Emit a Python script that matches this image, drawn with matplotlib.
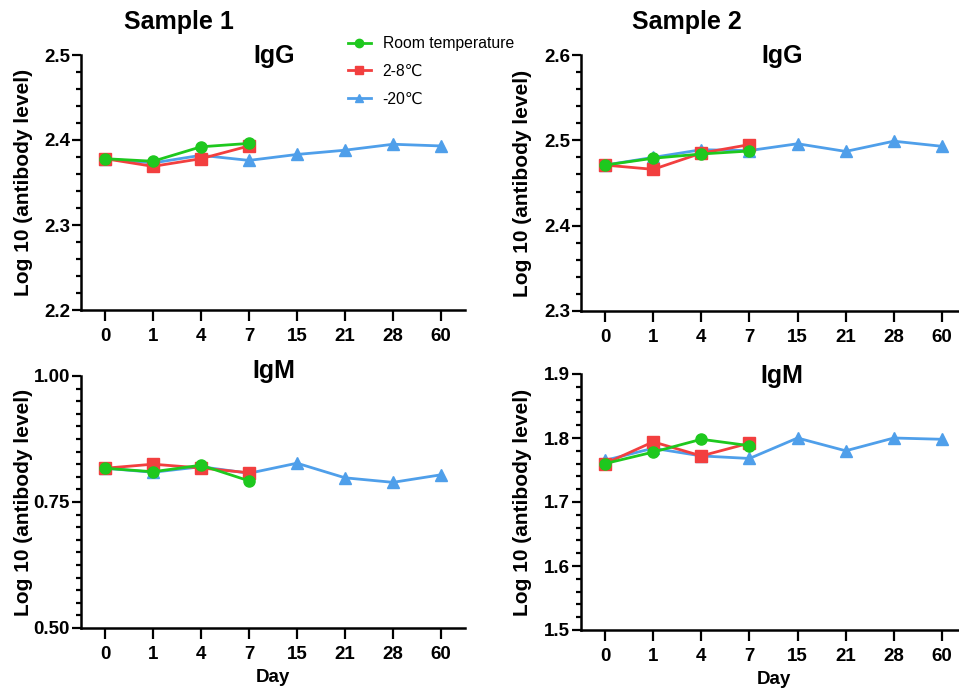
import matplotlib
matplotlib.use("Agg")
import matplotlib.pyplot as plt
from matplotlib.ticker import MultipleLocator, FormatStrFormatter

plt.rcParams['font.family'] = ['Liberation Sans', 'DejaVu Sans']

days = ["0", "1", "4", "7", "15", "21", "28", "60"]
series_names = ["Room temperature", "2-8℃", "-20℃"]

# Sample 1 IgG
s1_igg_rt = [2.378, 2.375, 2.392, 2.396]
s1_igg_cold = [2.378, 2.369, 2.378, 2.393]
s1_igg_frozen = [2.378, 2.373, 2.382, 2.376, 2.383, 2.388, 2.395, 2.393]
# Sample 2 IgG
s2_igg_rt = [2.471, 2.479, 2.484, 2.4875]
s2_igg_cold = [2.471, 2.466, 2.485, 2.495]
s2_igg_frozen = [2.471, 2.480, 2.489, 2.488, 2.496, 2.487, 2.499, 2.493]
# Sample 1 IgM
s1_igm_rt = [0.817, 0.810, 0.823, 0.792]
s1_igm_cold = [0.817, 0.825, 0.8175, 0.808]
s1_igm_frozen = [0.817, 0.809, 0.820, 0.807, 0.827, 0.798, 0.789, 0.804]
# Sample 2 IgM
s2_igm_rt = [1.760, 1.778, 1.798, 1.788]
s2_igm_cold = [1.760, 1.794, 1.772, 1.792]
s2_igm_frozen = [1.765, 1.784, 1.772, 1.768, 1.800, 1.780, 1.800, 1.798]

GREEN = '#1ec81e'
RED = '#f23f3f'
BLUE = '#4f9fea'

W, H = 959, 689
fig = plt.figure(figsize=(W / 100, H / 100), dpi=100)

def rect(l, r, t, b):
    return [l / W, 1 - b / H, (r - l) / W, (b - t) / H]

panels = [
    ((81, 465, 55, 310), 33, (2.2, 2.5), 0.1, 0.02, '%.1f',
     s1_igg_rt, s1_igg_cold, s1_igg_frozen, False),
    ((581, 966, 55, 311), 532, (2.3, 2.6), 0.1, 0.02, '%.1f',
     s2_igg_rt, s2_igg_cold, s2_igg_frozen, False),
    ((81, 465, 376, 628), 33, (0.5, 1.0), 0.25, 0.025, '%.2f',
     s1_igm_rt, s1_igm_cold, s1_igm_frozen, True),
    ((581, 966, 374, 630), 532, (1.5, 1.9), 0.1, 0.02, '%.1f',
     s2_igm_rt, s2_igm_cold, s2_igm_frozen, True),
]

axes = []
for box, ylab_x, ylim, major, minor, fmt, rt, cold, frz, xl in panels:
    ax = fig.add_axes(rect(*box))
    x_all = list(range(len(days)))
    ax.plot(x_all[:len(frz)], frz, color=BLUE, marker='^', markersize=8,
            linewidth=2, label=series_names[2], zorder=3)
    ax.plot(x_all[:len(cold)], cold, color=RED, marker='s', markersize=8,
            linewidth=2, label=series_names[1], zorder=4)
    ax.plot(x_all[:len(rt)], rt, color=GREEN, marker='o', markersize=8,
            linewidth=2, label=series_names[0], zorder=5)
    ax.set_xlim(-0.5, 7.5)
    ax.set_ylim(*ylim)
    ax.set_xticks(x_all)
    ax.set_xticklabels(days)
    ax.yaxis.set_major_locator(MultipleLocator(major))
    ax.yaxis.set_minor_locator(MultipleLocator(minor))
    ax.yaxis.set_major_formatter(FormatStrFormatter(fmt))
    for s in ['top', 'right']:
        ax.spines[s].set_visible(False)
    for s in ['left', 'bottom']:
        ax.spines[s].set_linewidth(1.8)
    ax.tick_params(axis='y', which='major', length=6.5, width=1.6,
                   labelsize=13.5, pad=1.5)
    ax.tick_params(axis='y', which='minor', length=3.8, width=1.6)
    ax.tick_params(axis='x', which='major', length=8, width=1.6,
                   labelsize=13.5, pad=5)
    for lab in ax.get_xticklabels() + ax.get_yticklabels():
        lab.set_fontweight('bold')
    ax.set_ylabel('Log 10 (antibody level)', fontsize=15, fontweight='bold')
    ax.yaxis.set_label_coords((ylab_x - box[0]) / (box[1] - box[0]), 0.5)
    if xl:
        ax.set_xlabel('Day', fontsize=13.5, fontweight='bold', labelpad=4)
    axes.append(ax)

fig.text(179 / W, 1 - 22 / H, 'Sample 1', fontsize=18, fontweight='bold',
         ha='center', va='center')
fig.text(687 / W, 1 - 22 / H, 'Sample 2', fontsize=18, fontweight='bold',
         ha='center', va='center')
fig.text(274 / W, 1 - 63 / H, 'IgG', fontsize=18, fontweight='bold',
         ha='center', va='baseline')
fig.text(782 / W, 1 - 63 / H, 'IgG', fontsize=18, fontweight='bold',
         ha='center', va='baseline')
fig.text(274 / W, 1 - 378 / H, 'IgM', fontsize=18, fontweight='bold',
         ha='center', va='baseline')
fig.text(782 / W, 1 - 383 / H, 'IgM', fontsize=18, fontweight='bold',
         ha='center', va='baseline')

handles, labels = axes[0].get_legend_handles_labels()
order = [2, 1, 0]
leg = fig.legend([handles[i] for i in order], [labels[i] for i in order],
                 loc='upper left', bbox_to_anchor=(348 / W, 1 - 36 / H),
                 frameon=False, fontsize=11.3, handlelength=1.45,
                 handletextpad=0.75, labelspacing=0.82, borderaxespad=0,
                 borderpad=0, markerscale=0.75)

fig.savefig('out.png', dpi=100)
